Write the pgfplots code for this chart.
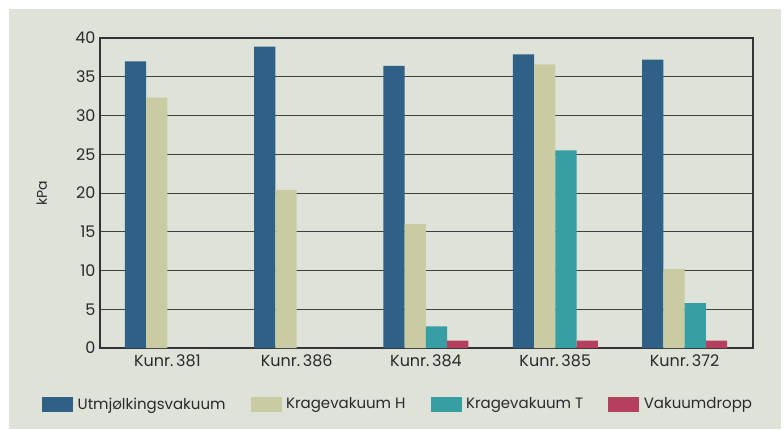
\documentclass[border=0pt]{standalone}
\usepackage{fontspec}
\setmainfont{Poppins}
\usepackage{pgfplots}
\pgfplotsset{compat=1.18}
\definecolor{bgc}{HTML}{DFE2D9}
\definecolor{cblue}{HTML}{2F6186}
\definecolor{cbeige}{HTML}{C9CCA3}
\definecolor{cteal}{HTML}{379FA4}
\definecolor{cred}{HTML}{B5405E}
\definecolor{txt}{HTML}{2A2A2A}
\begin{document}
\begin{tikzpicture}[x=1bp,y=1bp]
\fill[white] (0,0) rectangle (784,429);
\fill[bgc] (9,0) rectangle (781,420);
\begin{axis}[
  at={(100bp,81bp)}, anchor=south west,
  scale only axis, width=653bp, height=310bp,
  ybar=0pt, bar width=21.25bp,
  xmin=-0.522, xmax=4.53, ymin=0, ymax=40,
  xtick={0,1,2,3,4},
  xticklabels={Kunr.\,381,Kunr.\,386,Kunr.\,384,Kunr.\,385,Kunr.\,372},
  ytick={0,5,...,40},
  major tick length=0pt,
  ymajorgrids, grid style={black!75, line width=0.9bp},
  axis line style={black!80, line width=1.3bp},
  /pgf/number format/assume math mode=true,
  tick label style={font=\fontsize{16bp}{19bp}\selectfont, text=txt},
  xticklabel style={yshift=-3bp},
  yticklabel style={xshift=-1bp},
  ylabel={kPa},
  ylabel style={at={(axis description cs:-0.089,0.5)}, anchor=center, font=\fontsize{14bp}{17bp}\selectfont, text=txt},
  legend columns=4,
  legend style={at={(axis description cs:-0.0935,-0.181)}, anchor=west, draw=none, fill=none,
    font=\fontsize{15bp}{18bp}\selectfont, text=txt,
    /tikz/every even column/.append style={column sep=20.5bp},
    nodes={inner xsep=4.5bp}},
  legend image code/.code={\fill[#1] (0bp,-7.5bp) rectangle (31bp,7.5bp);},
]
\addplot[fill=cblue, draw=none] coordinates {(0,37.0) (1,38.9) (2,36.4) (3,37.9) (4,37.2)};
\addplot[fill=cbeige, draw=none] coordinates {(0,32.3) (1,20.4) (2,16.0) (3,36.6) (4,10.2)};
\addplot[fill=cteal, draw=none] coordinates {(0,0) (1,0) (2,2.8) (3,25.5) (4,5.8)};
\addplot[fill=cred, draw=none] coordinates {(0,0) (1,0) (2,0.95) (3,0.95) (4,0.95)};
\legend{Utmjølkingsvakuum, Kragevakuum H, Kragevakuum T, Vakuumdropp}
\end{axis}
\end{tikzpicture}
\end{document}
